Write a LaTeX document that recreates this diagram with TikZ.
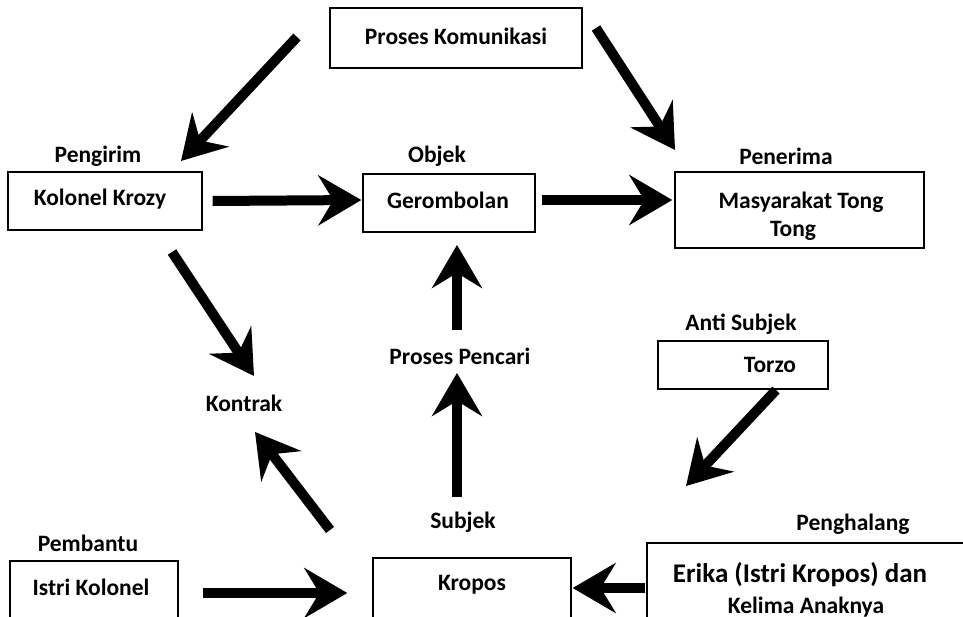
\documentclass[tikz,border=0pt]{standalone}
\usepackage{fontspec}
\setmainfont{Carlito}
\usetikzlibrary{arrows.meta}
\begin{document}
\begin{tikzpicture}[x=1pt,y=-1pt,
  box/.style={draw, line width=1.4pt, inner sep=0pt, align=center},
  txt/.style={font=\bfseries\fontsize{23.5}{28}\selectfont, inner sep=0pt, align=center},
  bigtxt/.style={font=\bfseries\fontsize{27}{31}\selectfont, inner sep=0pt},
  bigarrow/.style={line width=10pt, -{Stealth[length=43pt,width=50pt,inset=15pt]}}]
\useasboundingbox (0,0) rectangle (963,617);
\clip (0,0) rectangle (963,617);

% boxes and the text they hold
\node[box, minimum width=252pt, minimum height=60pt] (komunikasi) at (456,38) {};
\node[txt] at (456,36) {Proses Komunikasi};

\node[box, minimum width=194pt, minimum height=58pt] (krozy) at (105,201) {};
\node[txt] at (100,199) {Kolonel Krozy};

\node[box, minimum width=172pt, minimum height=58pt] (gerombolan) at (449,203) {};
\node[txt] at (448,200) {Gerombolan};

\node[box, minimum width=249pt, minimum height=76pt] (masyarakat) at (799.5,210) {};
\begin{scope}
  \clip (677,174) rectangle (922,241);
  \node[txt, anchor=base] at (801,209) {Masyarakat Tong};
  \node[txt, anchor=base] at (793,237) {Tong};
\end{scope}

\node[box, minimum width=170pt, minimum height=48pt] (torzo) at (743,365) {};
\node[txt] at (770,365) {Torzo};

\node[box, minimum width=168pt, minimum height=80pt] (istri) at (94,601) {};
\node[txt] at (91,587) {Istri Kolonel};

\node[box, minimum width=198pt, minimum height=80pt] (kropos) at (472,598) {};
\node[txt] at (472,585) {Kropos};

\node[box, minimum width=340pt, minimum height=100pt] (erika) at (817,593) {};
\node[bigtxt] at (800,575) {Erika (Istri Kropos) dan};
\node[txt, anchor=base] at (806,613) {Kelima Anaknya};

% role labels
\node[txt] (pengirim) at (98,156) {Pengirim};
\node[txt] (objek) at (437,156) {Objek};
\node[txt] (penerima) at (786,156) {Penerima};
\node[txt] (kontrak) at (244,403) {Kontrak};
\node[txt] (pencari) at (460,356) {Proses Pencari};
\node[txt] (antisubjek) at (741,324) {Anti Subjek};
\node[txt] (subjek) at (463,522) {Subjek};
\node[txt] (penghalang) at (853,524) {Penghalang};
\node[txt] (pembantu) at (88,543) {Pembantu};

% free ends of the arrows
\coordinate (a1) at (297,37);   \coordinate (b1) at (181,161);
\coordinate (a2) at (596,28);   \coordinate (b2) at (675,150);
\coordinate (a5) at (172,252);  \coordinate (b5) at (254,376);
\coordinate (a6) at (457,330);  \coordinate (b6) at (457,245);
\coordinate (a7) at (457,497);  \coordinate (b7) at (457,373);
\coordinate (a8) at (330,530);  \coordinate (b8) at (255,432);
\coordinate (a9) at (776,390);  \coordinate (b9) at (686,486);

% arrows
\draw[bigarrow] (a1) -- (b1);
\draw[bigarrow] (a2) -- (b2);
\draw[bigarrow] ([xshift=10pt]krozy.east) -- ([xshift=-1pt]gerombolan.west |- 0,200);
\draw[bigarrow] ([xshift=6pt]gerombolan.east |- 0,200) -- ([xshift=-2pt]masyarakat.west |- 0,200);
\draw[bigarrow] (a5) -- (b5);
\draw[bigarrow] (a6) -- (b6);
\draw[bigarrow] (a7) -- (b7);
\draw[bigarrow] (a8) -- (b8);
\draw[bigarrow] (a9) -- (b9);
\draw[bigarrow] ([xshift=-1pt]erika.west |- 0,588) -- ([xshift=1pt]kropos.east |- 0,588);
\draw[bigarrow] ([xshift=24pt]istri.east |- 0,593) -- ([xshift=-25pt]kropos.west |- 0,593);
\end{tikzpicture}
\end{document}
